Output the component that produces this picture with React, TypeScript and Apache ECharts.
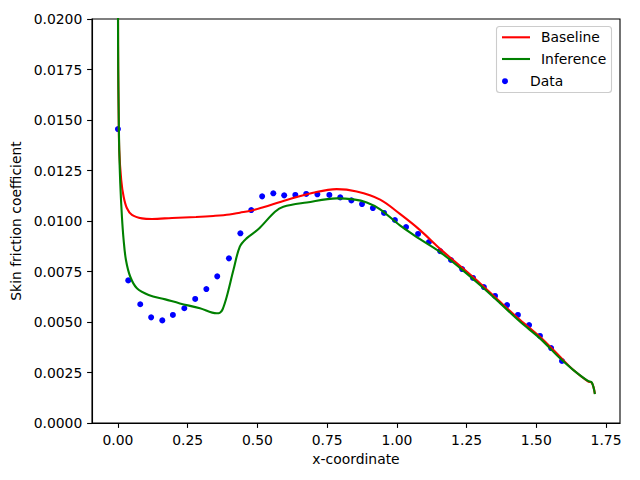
import React, { useEffect, useRef } from "react";
import * as echarts from "echarts";

const xTickValues = [0, 0.25, 0.5, 0.75, 1.0, 1.25, 1.5, 1.75];

const baselineX = [
  0, 0.0003, 0.001, 0.0025, 0.0047, 0.0118, 0.0204, 0.0323, 0.0502, 0.086,
  0.122, 0.194, 0.28, 0.342, 0.4, 0.437, 0.48, 0.521, 0.605, 0.7, 0.784, 0.856,
  0.94, 1.011, 1.083, 1.155, 1.226, 1.298, 1.37, 1.442, 1.513, 1.585, 1.633,
  1.685, 1.699, 1.71,
];
const baselineY = [
  0.03, 0.02, 0.0175, 0.0155, 0.01351, 0.01203, 0.0112, 0.01063, 0.0103,
  0.01013, 0.0101, 0.01015, 0.0102, 0.01025, 0.01032, 0.01041, 0.01052,
  0.01068, 0.01104, 0.0114, 0.01158, 0.01146, 0.01106, 0.01035, 0.00955,
  0.00862, 0.00778, 0.00692, 0.006, 0.0051, 0.00427, 0.00328, 0.00262, 0.00206,
  0.00199, 0.00145,
];

const inferenceX = [
  0, 0.0003, 0.001, 0.0025, 0.0047, 0.0083, 0.0143, 0.0204, 0.0287, 0.0442,
  0.068, 0.11, 0.17, 0.222, 0.294, 0.354, 0.365, 0.375, 0.39, 0.414, 0.437,
  0.461, 0.503, 0.563, 0.593, 0.677, 0.784, 0.844, 0.892, 0.94, 1.011, 1.083,
  1.155, 1.226, 1.298, 1.37, 1.442, 1.513, 1.585, 1.633, 1.685, 1.699, 1.71,
];
const inferenceY = [
  0.03, 0.02, 0.0175, 0.0155, 0.01351, 0.01187, 0.01021, 0.00906, 0.00807,
  0.00724, 0.00667, 0.00634, 0.00612, 0.00592, 0.00568, 0.00543, 0.00545,
  0.00562, 0.00625, 0.00757, 0.00873, 0.00914, 0.00959, 0.01046, 0.01071,
  0.01092, 0.01112, 0.01107, 0.01092, 0.01058, 0.00978, 0.0091, 0.00846,
  0.00768, 0.00683, 0.00593, 0.00501, 0.00419, 0.0032, 0.00262, 0.00208,
  0.00201, 0.00143,
];

const dataX = [
  0.0, 0.037, 0.08, 0.119, 0.159, 0.197, 0.238, 0.277, 0.317, 0.356, 0.398,
  0.439, 0.478, 0.517, 0.557, 0.596, 0.636, 0.675, 0.715, 0.758, 0.797, 0.837,
  0.875, 0.914, 0.954, 0.993, 1.033, 1.076, 1.115, 1.155, 1.194, 1.234, 1.273,
  1.312, 1.352, 1.395, 1.434, 1.474, 1.513, 1.553, 1.592,
];
const dataY = [
  0.01455, 0.00706, 0.00588, 0.00523, 0.00508, 0.00535, 0.00568, 0.00614,
  0.00663, 0.00726, 0.00815, 0.00939, 0.01054, 0.01122, 0.01137, 0.01127,
  0.01129, 0.01134, 0.01132, 0.01129, 0.01117, 0.01102, 0.01084, 0.01064,
  0.0104, 0.01005, 0.0097, 0.00936, 0.00896, 0.00851, 0.00807, 0.00762,
  0.00718, 0.00673, 0.00629, 0.00584, 0.00535, 0.00485, 0.00431, 0.00371,
  0.00307,
];

const zip = (xs: number[], ys: number[]) => xs.map((x, i) => [x, ys[i]]);

const FONT = "DejaVu Sans";
const FS = 13.9;
const LINE_ICON = "path://M0,0H28V2.1H0Z";

export default function App() {
  const ref = useRef<HTMLDivElement>(null);
  useEffect(() => {
    document.body.style.margin = "0";
    if (!ref.current) return;
    const chart = echarts.init(ref.current, undefined, { renderer: "svg" });
    const textStyle = { fontFamily: FONT, fontSize: FS, color: "#000" };
    chart.setOption({
      animation: false,
      backgroundColor: "#fff",
      textStyle: { fontFamily: FONT },
      grid: {
        left: 92,
        right: 20,
        top: 19,
        bottom: 57,
        show: true,
        borderColor: "#000",
        borderWidth: 1.1,
        backgroundColor: "transparent",
      },
      graphic: [
        {
          type: "rect",
          shape: { x: 496.5, y: 26.5, width: 115, height: 66, r: 3 },
          style: { fill: "rgba(255,255,255,0.8)", stroke: "#cccccc", lineWidth: 1.1 },
          z: 3,
        },
      ],
      legend: [
        {
          orient: "vertical",
          left: 502,
          top: 30.3,
          padding: 0,
          itemWidth: 28,
          itemHeight: 14,
          itemGap: 7.7,
          selectedMode: false,
          data: [
            { name: "Baseline", icon: LINE_ICON },
            { name: "Inference", icon: LINE_ICON },
          ],
          textStyle: { ...textStyle, padding: [0, 0, 0, 6] },
          z: 5,
        },
        {
          orient: "vertical",
          left: 502,
          top: 74.2,
          padding: 0,
          itemWidth: 28,
          itemHeight: 6,
          selectedMode: false,
          data: ["Data"],
          textStyle: { ...textStyle, padding: [0, 0, 0, 6] },
          z: 5,
        },
      ],
      xAxis: {
        type: "value",
        min: -0.093,
        max: 1.8,
        name: "x-coordinate",
        nameLocation: "middle",
        nameGap: 27,
        nameTextStyle: textStyle,
        axisLine: { show: true, onZero: false, lineStyle: { color: "#000", width: 1.1 } },
        axisTick: {
          show: true,
          length: 4.9,
          lineStyle: { color: "#000", width: 1.1 },
          customValues: xTickValues,
        },
        axisLabel: {
          ...textStyle,
          margin: 9.7,
          customValues: xTickValues,
          formatter: (v: number) => v.toFixed(2),
        },
        splitLine: { show: false },
      },
      yAxis: {
        type: "value",
        min: 0,
        max: 0.02,
        interval: 0.0025,
        name: "Skin friction coefficient",
        nameLocation: "middle",
        nameGap: 63,
        nameTextStyle: textStyle,
        axisLine: { show: true, onZero: false, lineStyle: { color: "#000", width: 1.1 } },
        axisTick: { show: true, length: 4.9, lineStyle: { color: "#000", width: 1.1 } },
        axisLabel: {
          ...textStyle,
          margin: 9.7,
          formatter: (v: number) => v.toFixed(4),
        },
        splitLine: { show: false },
      },
      series: [
        {
          name: "Baseline",
          type: "line",
          data: zip(baselineX, baselineY),
          symbol: "none",
          smooth: 0.35,
          lineStyle: { color: "#ff0000", width: 2.1 },
          itemStyle: { color: "#ff0000" },
          z: 3,
        },
        {
          name: "Inference",
          type: "line",
          data: zip(inferenceX, inferenceY),
          symbol: "none",
          smooth: 0.35,
          lineStyle: { color: "#008000", width: 2.1 },
          itemStyle: { color: "#008000" },
          z: 3,
        },
        {
          name: "Data",
          type: "scatter",
          data: zip(dataX, dataY),
          symbol: "circle",
          symbolSize: 6,
          itemStyle: { color: "#0000ff", opacity: 1 },
          z: 2,
        },
      ],
    });
    return () => chart.dispose();
  }, []);
  return <div ref={ref} style={{ width: 640, height: 480 }} />;
}
